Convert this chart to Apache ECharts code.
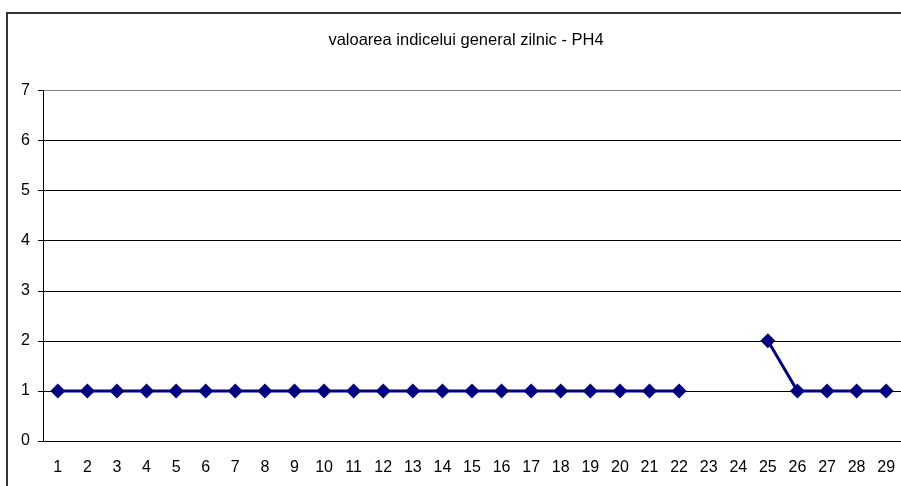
<!DOCTYPE html>
<html>
<head>
<meta charset="utf-8">
<script src="https://cdn.jsdelivr.net/npm/echarts@6/dist/echarts.min.js"></script>
<style>
  html, body { margin: 0; padding: 0; background: #fff; }
  #chart { width: 901px; height: 486px; }
</style>
</head>
<body>
<div id="chart"></div>
<script>
// zile 1..29
var days = ['1', '2', '3', '4', '5', '6', '7', '8', '9', '10', '11', '12', '13', '14', '15',
            '16', '17', '18', '19', '20', '21', '22', '23', '24', '25', '26', '27', '28', '29'];
// valoarea indicelui (23, 24 lipsa)
var values = [1, 1, 1, 1, 1, 1, 1, 1, 1, 1, 1, 1, 1, 1, 1, 1, 1, 1, 1, 1, 1, 1,
              null, null, 2, 1, 1, 1, 1];
var yTicks = [0, 1, 2, 3, 4, 5, 6, 7];

var chart = echarts.init(document.getElementById('chart'));
chart.setOption({
    animation: false,
    title: {
        text: 'valoarea indicelui general zilnic - PH4',
        left: 461,
        textAlign: 'center',
        top: 27,
        textStyle: { fontFamily: 'Liberation Sans', fontSize: 16.5, fontWeight: 'normal', color: '#000' }
    },
    graphic: [{
        type: 'rect',
        shape: { x: 7, y: 13, width: 1000, height: 1000 },
        style: { fill: 'none', stroke: '#333', lineWidth: 2 }
    }],
    grid: { left: 43, right: 0, top: 90.5, bottom: 45 },
    xAxis: {
        type: 'category',
        data: days,
        boundaryGap: true,
        axisLine: { lineStyle: { color: '#000', width: 1 } },
        axisTick: { length: 5, lineStyle: { color: '#000' } },
        axisLabel: { fontFamily: 'Liberation Sans', fontSize: 16, color: '#000', margin: 19, interval: 0 },
        splitLine: { show: false }
    },
    yAxis: {
        type: 'value',
        min: yTicks[0],
        max: yTicks[yTicks.length - 1],
        interval: 1,
        axisLine: { show: true, lineStyle: { color: '#000', width: 1 } },
        axisTick: { show: true, length: 5, lineStyle: { color: '#000' } },
        axisLabel: { fontFamily: 'Liberation Sans', fontSize: 16, color: '#000', margin: 13 },
        splitLine: { lineStyle: { color: ['#000', '#000', '#000', '#000', '#000', '#000', '#000', '#808080'], width: 1 } }
    },
    series: [{
        type: 'line',
        data: values,
        connectNulls: false,
        symbol: 'diamond',
        symbolSize: 15,
        lineStyle: { color: '#000080', width: 3 },
        itemStyle: { color: '#000080' }
    }]
});
</script>
</body>
</html>
